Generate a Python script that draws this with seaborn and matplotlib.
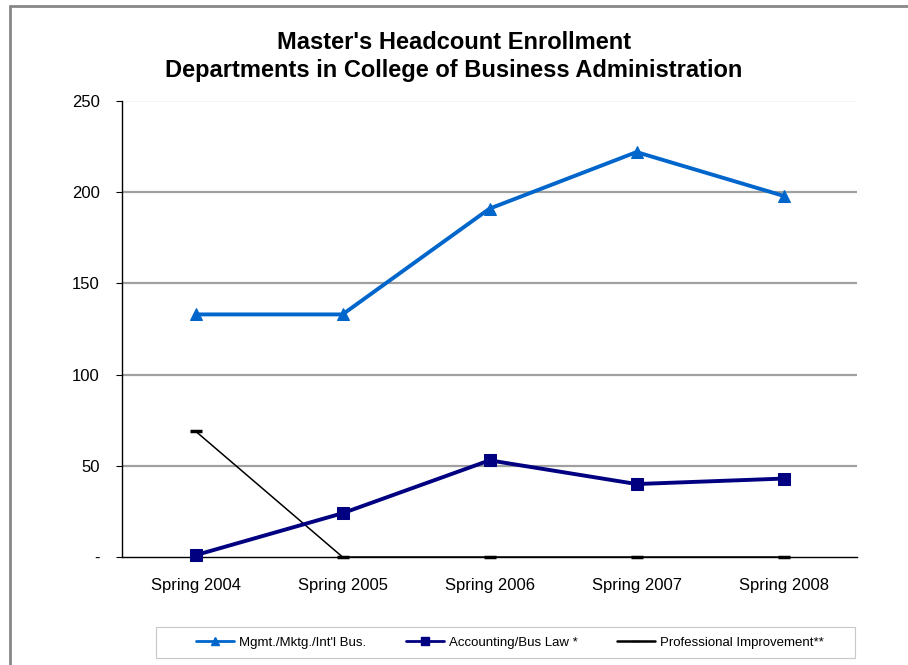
import matplotlib
matplotlib.use("Agg")
import matplotlib.pyplot as plt
import seaborn as sns
from matplotlib.lines import Line2D
from matplotlib.patches import Rectangle

# Data
terms = ["Spring 2004", "Spring 2005", "Spring 2006", "Spring 2007", "Spring 2008"]
mgmt = [133, 133, 191, 222, 198]
accounting = [1, 24, 53, 40, 43]
professional = [69, 0, 0, 0, 0]
series_names = ["Mgmt./Mktg./Int'l Bus.", "Accounting/Bus Law *", "Professional Improvement**"]
y_ticks = [0, 50, 100, 150, 200, 250]
y_labels = ["-", "50", "100", "150", "200", "250"]

sns.set_style("white")
plt.rcParams["font.family"] = ["Liberation Sans", "DejaVu Sans"]
plt.rcParams["text.color"] = "black"
plt.rcParams["xtick.color"] = "black"
plt.rcParams["ytick.color"] = "black"

fig = plt.figure(figsize=(9.08, 6.65), dpi=100)
ax = fig.add_axes([0.1344, 0.1624, 0.8095, 0.6857])

x = list(range(len(terms)))

# Gridlines first so they sit under the lines
for v in y_ticks[1:-1]:
    ax.axhline(v, color="#a0a0a0", lw=1.6, zorder=0)
ax.axhline(250, color="#f2f2f2", lw=1.2, zorder=0)

sns.lineplot(x=x, y=mgmt, ax=ax, color="#0066cc", lw=2.8, marker="^",
             markersize=8, markeredgecolor="#0066cc", zorder=3, clip_on=False)
sns.lineplot(x=x, y=accounting, ax=ax, color="#000080", lw=2.8, marker="s",
             markersize=8, markeredgecolor="#000080", zorder=3, clip_on=False)
sns.lineplot(x=x, y=professional, ax=ax, color="black", lw=1.1, marker="_",
             markersize=9, markeredgewidth=2.5, markeredgecolor="black",
             zorder=2, clip_on=False)

ax.set_xlim(-0.5, len(terms) - 0.5)
ax.set_ylim(0, 250)
ax.set_xticks(x)
ax.set_xticklabels(terms, fontsize=12)
ax.set_xticks([i - 0.5 for i in range(len(terms) + 1)], minor=True)
ax.tick_params(axis="x", which="major", length=0, pad=15)
ax.tick_params(axis="x", which="minor", length=5, width=0.8, color="#555555")
ax.set_yticks(y_ticks)
ax.set_yticklabels(y_labels, fontsize=12)
ax.tick_params(axis="y", length=4, width=0.8, pad=12, left=True)

for side in ["top", "right"]:
    ax.spines[side].set_visible(False)
ax.spines["left"].set_color("black")
ax.spines["bottom"].set_color("black")
ax.spines["left"].set_linewidth(1.0)
ax.spines["bottom"].set_linewidth(1.0)

fig.suptitle("Master's Headcount Enrollment\nDepartments in College of Business Administration",
             x=0.5, y=0.953, fontsize=17, fontweight="bold", linespacing=1.28,
             color="black")

# Legend frame drawn separately, entries centred inside it
fig.add_artist(Rectangle((156 / 908, 7 / 665), 699 / 908, 31 / 665,
                         transform=fig.transFigure, fill=False,
                         edgecolor="#c8c8c8", lw=0.8))
handles = [
    Line2D([], [], color="#0066cc", lw=2, marker="^", markersize=6),
    Line2D([], [], color="#000080", lw=2, marker="s", markersize=6),
    Line2D([], [], color="black", lw=1.8, marker="_", markersize=6),
]
fig.legend(handles, series_names, loc="center", bbox_to_anchor=(510 / 908, 22.5 / 665),
           ncol=3, fontsize=9.5, frameon=False, handlelength=2.9,
           handletextpad=0.4, columnspacing=2.95, borderpad=0.2)

# Outer chart border (left and top edges visible)
fig.add_artist(Line2D([10 / 908, 10 / 908], [0, 1 - 6 / 665], transform=fig.transFigure,
                      color="#888888", lw=2))
fig.add_artist(Line2D([10 / 908, 1], [1 - 6 / 665, 1 - 6 / 665], transform=fig.transFigure,
                      color="#888888", lw=2))

fig.savefig("out.png", dpi=100)
